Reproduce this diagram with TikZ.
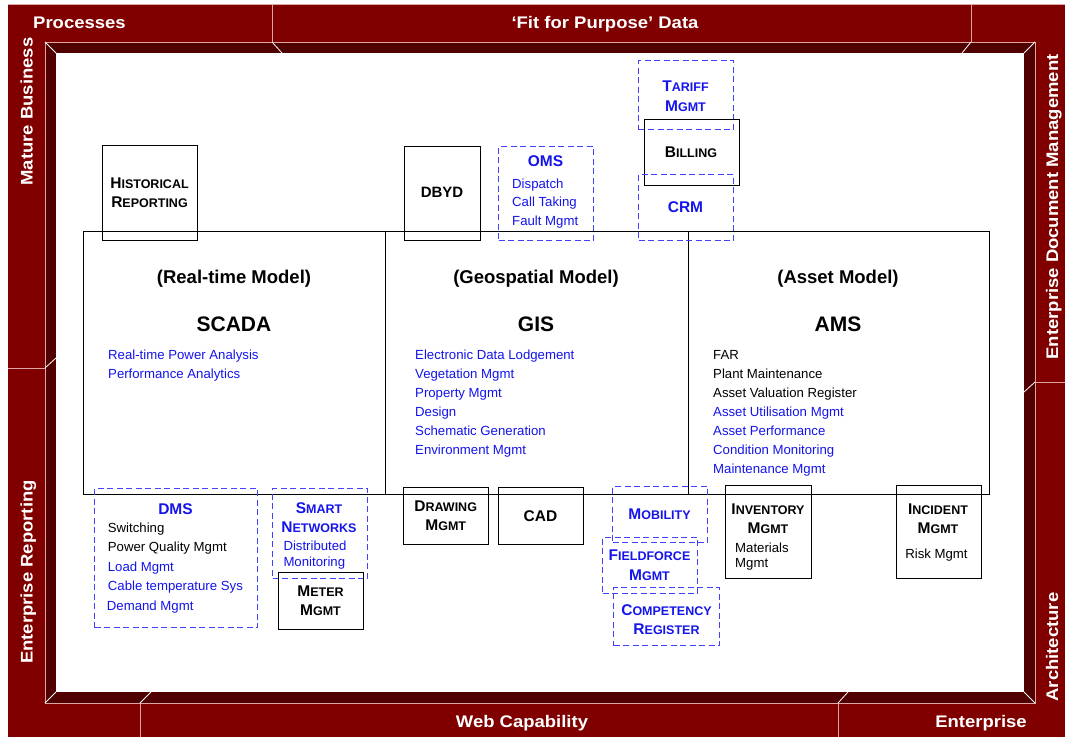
\documentclass[tikz,border=0pt]{standalone}
\usepackage{fontspec}
\setmainfont{Liberation Sans}
\newfontfamily\framefont{Liberation Sans}[FakeStretch=1.1]

\definecolor{framered}{RGB}{128,0,0}
\definecolor{bevel}{RGB}{80,0,0}
\definecolor{edgepink}{RGB}{222,165,165}
\definecolor{txtblue}{RGB}{20,20,235}
\definecolor{dashblue}{RGB}{65,65,255}

% small-caps style heading: large first letter, smaller capitals after it
\newcommand\capsx[2]{{\fontsize{15.5}{18}\selectfont #1}{\fontsize{12.5}{18}\selectfont #2}}

% rectangle node given by its corners: style, name, x1, y1, x2, y2
% (edges sit on half units so that thin strokes stay crisp)
\newcommand\rectnode[6]{%
  \pgfmathsetmacro\bxw{#5-#3}\pgfmathsetmacro\bxh{#6-#4}%
  \pgfmathsetmacro\bxx{(#3+#5)/2+0.5}\pgfmathsetmacro\bxy{(#4+#6)/2+0.5}%
  \node[#1, minimum width=\bxw pt, minimum height=\bxh pt] (#2) at (\bxx,\bxy) {};}

\tikzset{
  box/.style={draw=black, line width=1.3pt, inner sep=0pt},
  dbox/.style={draw=dashblue, line width=1.2pt, dash pattern=on 6pt off 3.5pt, inner sep=0pt},
  item/.style={anchor=base west, inner sep=0pt, font=\fontsize{13.2}{15}\selectfont},
  hd/.style={anchor=base, inner sep=0pt, font=\bfseries},
  band/.style={text=white, anchor=base, inner sep=0pt,
    font=\framefont\bfseries\fontsize{16.8}{20}\selectfont},
  edge/.style={draw=edgepink, line width=0.8pt},
  mitre/.style={draw=white, line width=0.8pt},
  title/.style={hd, font=\bfseries\fontsize{18.5}{22}\selectfont},
  model/.style={hd, font=\bfseries\fontsize{21}{25}\selectfont},
}

\begin{document}
\begin{tikzpicture}[x=1pt,y=-1pt]
\useasboundingbox (0,0) rectangle (1065,737);

% ---------- frame ----------
\fill[framered] (8,4) rectangle (1065,737);
\fill[bevel] (45,42) rectangle (1035,703);
\fill[white] (56,53) rectangle (1024,692);
\draw[edge] (8,4) -- (1065,4);
\draw[edge] (45,42) rectangle (1035,703);
\draw[mitre] (45,42) -- (56,53);
\draw[mitre] (1035,42) -- (1024,53);
\draw[mitre] (45,703) -- (56,692);
\draw[mitre] (1035,703) -- (1024,692);
% segment joints
\draw[edge] (272,4) -- (272,42);  \draw[mitre] (272,42) -- (282,53);
\draw[edge] (971,4) -- (971,42);  \draw[mitre] (971,42) -- (962,53);
\draw[edge] (140,737) -- (140,703); \draw[mitre] (140,703) -- (151,692);
\draw[edge] (838,737) -- (838,703); \draw[mitre] (838,703) -- (848,692);
\draw[edge] (1065,382) -- (1035,382); \draw[mitre] (1035,382) -- (1024,392);
\draw[edge] (8,368) -- (45,368);  \draw[mitre] (45,368) -- (56,358);

% frame labels
\node[band, anchor=base west] (lblproc) at (33,28.7) {Processes};
\node[band] (lblfit) at (605,28.7) {‘Fit for Purpose’ Data};
\node[band] (lblweb) at (522,727) {Web Capability};
\node[band] (lblent) at (981,727) {Enterprise};
\node[band, rotate=90] (lblmature) at (32.5,111.5) {Mature Business};
\node[band, rotate=90] (lblrep) at (32.5,572) {Enterprise Reporting};
\node[band, rotate=90] (lbledm) at (1058,207) {Enterprise Document Management};
\node[band, rotate=90] (lblarch) at (1058,647) {Architecture};

% ---------- three model panels ----------
\rectnode{box}{rtmodel}{83}{231}{385}{494}
\rectnode{box}{geomodel}{385}{231}{688}{494}
\rectnode{box}{assetmodel}{688}{231}{989}{494}

\node[title] (rttitle) at (234,283.5) {(Real-time Model)};
\node[model] (scada) at (234,331.5) {SCADA};
\node[title] (geotitle) at (536,283.5) {(Geospatial Model)};
\node[model] (gis) at (536,331.5) {GIS};
\node[title] (assettitle) at (838,283.5) {(Asset Model)};
\node[model] (ams) at (838,331.5) {AMS};

\foreach \t [count=\i] in {Real-time Power Analysis, Performance Analytics}
  \node[item, text=txtblue] (scadaitem\i) at (108,{359.5+19*(\i-1)}) {\t};
\foreach \t [count=\i] in {Electronic Data Lodgement, Vegetation Mgmt, Property Mgmt,
    Design, Schematic Generation, Environment Mgmt}
  \node[item, text=txtblue] (gisitem\i) at (415,{359.5+19*(\i-1)}) {\t};
\foreach \t/\c [count=\i] in {FAR/black, Plant Maintenance/black,
    Asset Valuation Register/black, Asset Utilisation Mgmt/txtblue,
    Asset Performance/txtblue, Condition Monitoring/txtblue, Maintenance Mgmt/txtblue}
  \node[item, text=\c] (amsitem\i) at (713,{359+19*(\i-1)}) {\t};

% ---------- systems above the panels ----------
\rectnode{box}{hist}{102}{145}{197}{240}
\node[hd] (histA) at (149.5,188) {\capsx{H}{ISTORICAL}};
\node[hd] (histB) at (149.5,207.5) {\capsx{R}{EPORTING}};

\rectnode{box}{dbyd}{404}{146}{480}{240}
\node[hd, font=\bfseries\fontsize{15}{18}\selectfont] (dbydlbl) at (442,197.5) {DBYD};

\rectnode{dbox}{oms}{498}{146}{593}{240}
\node[hd, text=txtblue, font=\bfseries\fontsize{15.5}{18}\selectfont] (omslbl) at (545.5,166) {OMS};
\foreach \t [count=\i] in {Dispatch, Call Taking, Fault Mgmt}
  \node[item, text=txtblue] (omsitem\i) at (512,{188.2+18.7*(\i-1)}) {\t};

\rectnode{dbox}{tariff}{638}{60}{733}{129}
\node[hd, text=txtblue] (tariffA) at (685.5,91) {\capsx{T}{ARIFF}};
\node[hd, text=txtblue] (tariffB) at (685.5,111) {\capsx{M}{GMT}};

\rectnode{box}{billing}{644}{119}{739}{185}
\node[hd] (billinglbl) at (691,157.3) {\capsx{B}{ILLING}};

\rectnode{dbox}{crm}{638}{174}{733}{240}
\node[hd, text=txtblue, font=\bfseries\fontsize{15.5}{18}\selectfont] (crmlbl) at (685.5,212.7) {CRM};

% ---------- systems below the panels ----------
\rectnode{dbox}{dms}{94}{488}{257}{627}
\node[hd, text=txtblue, font=\bfseries\fontsize{15.5}{18}\selectfont] (dmslbl) at (175.5,514) {DMS};
\node[item] (dmsitem1) at (107.7,532.7) {Switching};
\node[item] (dmsitem2) at (107.7,551.7) {Power Quality Mgmt};
\node[item, text=txtblue] (dmsitem3) at (107.7,571) {Load Mgmt};
\node[item, text=txtblue] (dmsitem4) at (107.7,590.7) {Cable temperature Sys};
\node[item, text=txtblue] (dmsitem5) at (106.7,610.5) {Demand Mgmt};

\rectnode{dbox}{smart}{272}{488}{367}{578}
\node[hd, text=txtblue] (smartA) at (319,513.3) {\capsx{S}{MART}};
\node[hd, text=txtblue] (smartB) at (319,532.7) {\capsx{N}{ETWORKS}};
\node[item, text=txtblue] (smartitem1) at (283.3,550) {Distributed};
\node[item, text=txtblue] (smartitem2) at (283.3,566) {Monitoring};

\rectnode{box}{meter}{278}{572}{363}{629}
\node[hd] (meterA) at (320.5,596.7) {\capsx{M}{ETER}};
\node[hd] (meterB) at (320.5,615) {\capsx{M}{GMT}};

\rectnode{box}{drawing}{403}{487}{488}{544}
\node[hd] (drawingA) at (445.7,511.7) {\capsx{D}{RAWING}};
\node[hd] (drawingB) at (445.7,530.7) {\capsx{M}{GMT}};

\rectnode{box}{cad}{498}{487}{583}{544}
\node[hd, font=\bfseries\fontsize{15.5}{18}\selectfont] (cadlbl) at (540.5,521) {CAD};

\rectnode{dbox}{mobility}{612}{486}{707}{542}
\node[hd, text=txtblue] (mobilitylbl) at (659.5,519) {\capsx{M}{OBILITY}};

\rectnode{dbox}{fieldforce}{602}{537}{697}{593}
\node[hd, text=txtblue] (fieldA) at (649.5,560.7) {\capsx{F}{IELDFORCE}};
\node[hd, text=txtblue] (fieldB) at (649.5,580.7) {\capsx{M}{GMT}};

\rectnode{dbox}{competency}{613}{587}{719}{645}
\node[hd, text=txtblue] (compA) at (666.5,615.7) {\capsx{C}{OMPETENCY}};
\node[hd, text=txtblue] (compB) at (666.5,634.3) {\capsx{R}{EGISTER}};

\rectnode{box}{inventory}{725}{485}{811}{578}
\node[hd] (invA) at (768,514.3) {\capsx{I}{NVENTORY}};
\node[hd] (invB) at (768,533.3) {\capsx{M}{GMT}};
\node[item] (invitem1) at (735,552.7) {Materials};
\node[item] (invitem2) at (735,567.3) {Mgmt};

\rectnode{box}{incident}{896}{485}{981}{578}
\node[hd] (incA) at (938,514.3) {\capsx{I}{NCIDENT}};
\node[hd] (incB) at (938,533.3) {\capsx{M}{GMT}};
\node[hd, font=\fontsize{13.2}{15}\selectfont] (incitem) at (936.5,558.3) {Risk Mgmt};

\end{tikzpicture}
\end{document}
